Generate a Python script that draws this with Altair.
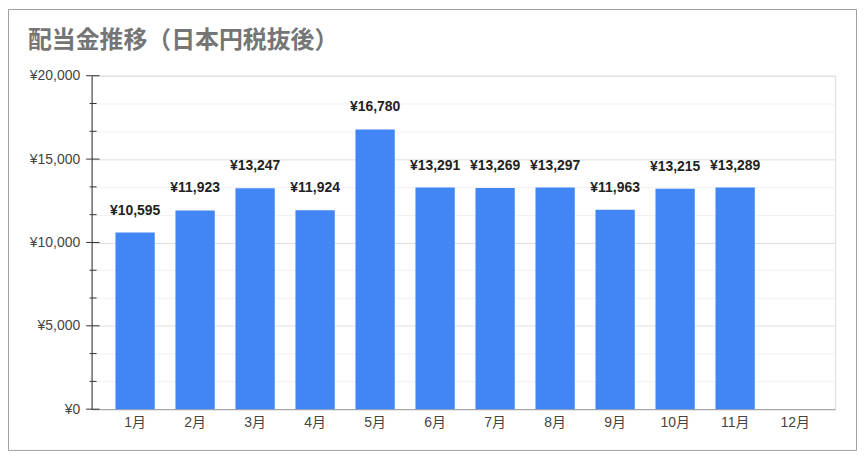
import altair as alt
import pandas as pd

months = ["1月", "2月", "3月", "4月", "5月", "6月", "7月", "8月", "9月", "10月", "11月", "12月"]
values = [10595, 11923, 13247, 11924, 16780, 13291, 13269, 13297, 11963, 13215, 13289, None]
major_ticks = [0, 5000, 10000, 15000, 20000]
all_ticks = [i * 5000 / 3 for i in range(13)]
title_text = "配当金推移（日本円税抜後）"

df = pd.DataFrame({"month": months, "value": values})
df["label"] = ["" if v is None or pd.isna(v) else "¥" + format(int(v), ",") for v in values]

W, H = 747, 335
PL, PT, PR, PB = 84, 67, 23, 43

LATIN = "Liberation Sans, Arial, Noto Sans CJK JP, sans-serif"
IS_MAJOR = "(abs(datum.value % 5000) < 1 || abs(datum.value % 5000 - 5000) < 1)"

x = alt.X("month:N", sort=months,
          scale=alt.Scale(domain=months, paddingInner=0.345, paddingOuter=0.368,
                          align=0.54, round=False),
          axis=alt.Axis(title=None, labelAngle=0, ticks=False, domain=True,
                        domainColor="#9e9e9e", labelFontSize=14, labelColor="#444444",
                        labelFont=LATIN, labelPadding=6, grid=False))
y = alt.Y("value:Q", scale=alt.Scale(domain=[0, 20000], nice=False, zero=True),
          axis=alt.Axis(title=None, values=all_ticks, tickCount=50, ticks=False, domain=True,
                        domainColor="#333333", grid=True, labelOverlap=False,
                        gridColor={"condition": {"test": IS_MAJOR, "value": "#dedede"}, "value": "#f0f0f0"},
                        labelExpr=IS_MAJOR + " ? '¥' + format(datum.value, ',') : ''",
                        labelFontSize=14, labelColor="#444444", labelFont=LATIN,
                        labelPadding=12))

base = alt.Chart(df)
bars = base.mark_bar(color="#4285F4").encode(x=x, y=y)
texts = base.transform_filter("datum.value != null").mark_text(
    dy=-22, fontWeight="bold", fontSize=14, font=LATIN, color="#222222", baseline="middle"
).encode(x=alt.X("month:N", sort=months), y="value:Q", text="label:N")

major_df = pd.DataFrame({"t": major_ticks})
minor_df = pd.DataFrame({"t": [t for t in all_ticks if min(abs(t - m) for m in major_ticks) > 1]})
major_rules = alt.Chart(major_df).mark_rule(color="#333333", strokeWidth=1).encode(
    y="t:Q", x=alt.value(-5.5), x2=alt.value(8))
minor_rules = alt.Chart(minor_df).mark_rule(color="#333333", strokeWidth=1).encode(
    y="t:Q", x=alt.value(-2), x2=alt.value(5))

border = alt.Chart(pd.DataFrame({"a": [0]})).mark_rect(
    fill=None, stroke="#9e9e9e", strokeWidth=1
).encode(x=alt.value(-PL + 0.5), x2=alt.value(W + PR - 1.5),
         y=alt.value(-PT + 0.5), y2=alt.value(H + PB - 1.5))

chart = alt.layer(border, bars, texts, major_rules, minor_rules).properties(
    width=W, height=H,
    autosize=alt.AutoSizeParams(type="none"),
    padding={"left": PL, "top": PT, "right": PR, "bottom": PB},
    title=alt.TitleParams(title_text, anchor="start", frame="group", dx=-64, dy=22,
                          font="Noto Sans CJK JP", fontSize=24, fontWeight="bold",
                          color="#757575", baseline="top", offset=-22),
).configure_view(stroke=None).configure(background="white")

chart.save("out.html", embed_options={"renderer": "svg", "actions": False})
